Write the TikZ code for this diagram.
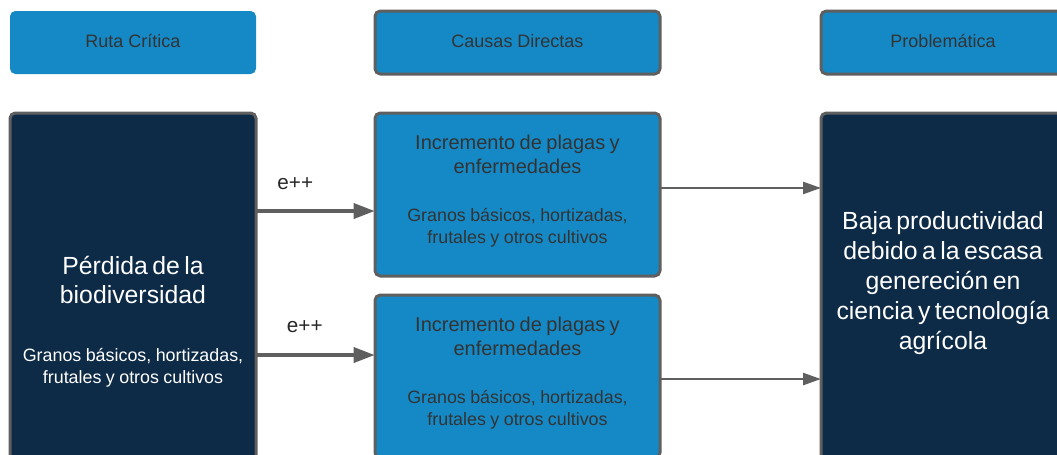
\documentclass[tikz,border=0pt]{standalone}
\usepackage{fontspec}
\setmainfont{Liberation Sans}
\usetikzlibrary{positioning,arrows.meta}

\definecolor{azulclaro}{RGB}{21,137,198}
\definecolor{azuloscuro}{RGB}{13,42,71}
\definecolor{borde}{RGB}{95,95,95}
\definecolor{textogris}{RGB}{51,51,51}

\begin{document}
\begin{tikzpicture}[
  caja/.style={draw=borde, line width=2.25pt, rounded corners=4pt, outer sep=0pt, inner sep=0pt, align=center},
  encabezado/.style={caja, fill=azulclaro, text=textogris, minimum height=47.25pt, font=\fontsize{13.5}{16}\selectfont},
  causa/.style={caja, fill=azulclaro, text=textogris, minimum width=213.75pt, minimum height=122.25pt, text width=200pt},
  oscura/.style={caja, fill=azuloscuro, text=white},
  flecha/.style={draw=borde, line width=1.8pt, -{Triangle[length=13.5pt,width=9pt]}},
  flechagruesa/.style={draw=borde, line width=3.3pt, -{Triangle[length=16pt,width=11pt]}},
  etiqueta/.style={text=black!85, font=\fontsize{15.5}{18}\selectfont}
]

  % Marco de la imagen
  \useasboundingbox (0,0) rectangle (792.75pt,-340.5pt);

  % Encabezados de columna
  \node (hdr_ruta) [encabezado, draw=none, minimum width=184.5pt, anchor=north west] at (7.5pt,-8.25pt) {Ruta Crítica\vphantom{g}};
  \node (hdr_causas) [encabezado, minimum width=213.75pt, right=89.25pt of hdr_ruta] {Causas Directas\vphantom{g}};
  \node (hdr_problema) [encabezado, minimum width=183pt, right=120.75pt of hdr_causas] {Problemática\vphantom{g}};

  % Ruta critica
  \node (box_perdida) [oscura, minimum width=184.5pt, minimum height=313.5pt, text width=178pt, below=29.25pt of hdr_ruta]
    {{\fontsize{18.6}{21.75}\selectfont Pérdida de la\\biodiversidad\par}\vspace{27pt}%
     {\fontsize{13.4}{16.5}\selectfont Granos básicos, hortizadas,\\frutales y otros cultivos\par}};

  % Causas directas
  \node (box_plagas1) [causa, below=29.25pt of hdr_causas]
    {{\fontsize{15}{18}\selectfont Incremento de plagas y\\enfermedades\par}\vspace{20pt}%
     {\fontsize{13.4}{16.5}\selectfont Granos básicos, hortizadas,\\frutales y otros cultivos\par}\kern5pt};
  \node (box_plagas2) [causa, below=14.25pt of box_plagas1]
    {{\fontsize{15}{18}\selectfont Incremento de plagas y\\enfermedades\par}\vspace{20pt}%
     {\fontsize{13.4}{16.5}\selectfont Granos básicos, hortizadas,\\frutales y otros cultivos\par}\kern5pt};

  % Problematica
  \node (box_baja) [oscura, minimum width=183pt, minimum height=262.5pt, text width=176pt, below=29.25pt of hdr_problema]
    {\fontsize{18.6}{22.5}\selectfont Baja productividad\\debido a la escasa\\genereción en\\ciencia y tecnología\\agrícola\par\kern8pt};

  % Flechas
  \draw[flechagruesa] ([yshift=-12.4pt]box_plagas1.west -| box_perdida.east) -- ([yshift=-12.4pt]box_plagas1.west)
    node[etiqueta, pos=0.33, above=11pt] (lbl_e1) {e++};
  \draw[flechagruesa] ([yshift=16.1pt]box_plagas2.west -| box_perdida.east) -- ([yshift=16.1pt]box_plagas2.west)
    node[etiqueta, pos=0.41, above=12pt] (lbl_e2) {e++};
  \draw[flecha] ([yshift=4.9pt]box_plagas1.east) -- ([yshift=4.9pt]box_plagas1.east -| box_baja.west);
  \draw[flecha] ([yshift=-1.9pt]box_plagas2.east) -- ([yshift=-1.9pt]box_plagas2.east -| box_baja.west);

\end{tikzpicture}
\end{document}
